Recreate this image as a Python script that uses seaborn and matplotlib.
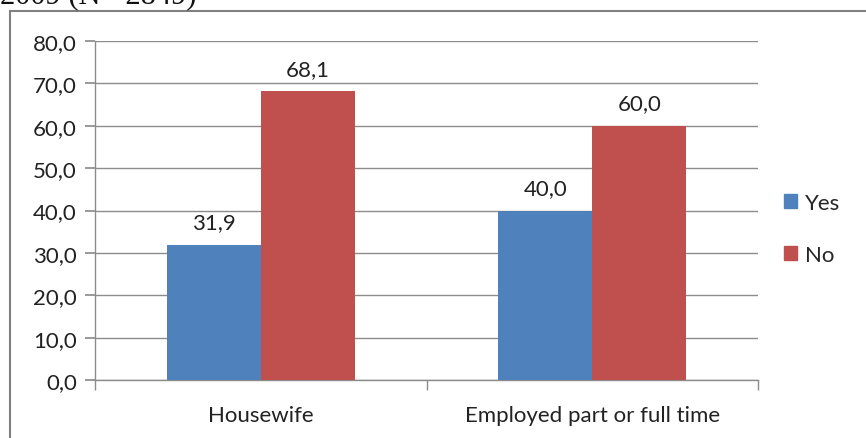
import matplotlib
matplotlib.use("Agg")
import matplotlib.pyplot as plt
import seaborn as sns
import pandas as pd
from matplotlib.lines import Line2D
from matplotlib.ticker import FuncFormatter, FixedLocator

categories = ["Housewife", "Employed part or full time"]
series = ["Yes", "No"]
yes_values = [31.9, 40.0]
no_values = [68.1, 60.0]
colors = ["#4F81BD", "#C0504D"]

df = pd.DataFrame({
    "category": categories * 2,
    "answer": ["Yes"] * 2 + ["No"] * 2,
    "value": yes_values + no_values,
})

sns.set_theme(style="white")
plt.rcParams['font.family'] = ['Lato', 'DejaVu Sans']

FS = 16

fig = plt.figure(figsize=(8.66, 4.39), dpi=100)
ax = fig.add_axes([95/866, 1-381/439, (758-95)/866, (381-42)/439])

sns.barplot(data=df, x="category", y="value", hue="answer", hue_order=series,
            palette=colors, width=0.567, gap=0, saturation=1, ax=ax,
            edgecolor="none", linewidth=0, zorder=3)

gridc = "#8c8c8c"
ax.set_ylim(0, 80)
ax.set_xlim(-0.5, 1.5)
ax.set_yticks(range(0, 81, 10))
ax.yaxis.set_major_formatter(FuncFormatter(lambda v, p: f"{v:.1f}".replace(".", ",")))
ax.grid(axis="y", color=gridc, linewidth=1, zorder=0)
ax.set_axisbelow(True)
for s in ["top", "right"]:
    ax.spines[s].set_visible(False)
for s in ["left", "bottom"]:
    ax.spines[s].set_color(gridc)
    ax.spines[s].set_linewidth(1)
ax.tick_params(axis="y", left=True, length=7, color=gridc, labelsize=FS, pad=6, labelcolor="#222222")
ax.set_xticks([0, 1])
ax.set_xticklabels(categories)
ax.tick_params(axis="x", bottom=False, labelsize=FS, pad=12, labelcolor="#222222")
ax.xaxis.set_minor_locator(FixedLocator([-0.5, 0.5, 1.5]))
ax.tick_params(axis="x", which="minor", bottom=True, length=7, color=gridc)
ax.set_xlabel("")
ax.set_ylabel("")

for cont in ax.containers:
    ax.bar_label(cont, labels=[f"{v:.1f}".replace(".", ",") for v in cont.datavalues],
                 padding=9, fontsize=FS, color="#222222")

ax.legend_.remove()
handles = [plt.Rectangle((0, 0), 1, 1, color=c) for c in colors]
fig.legend(handles, series, loc="center left", bbox_to_anchor=(764/866, 1-230/439),
           frameon=False, fontsize=FS, handlelength=0.6, handleheight=0.6,
           handletextpad=0.35, labelspacing=1.45)

# outer chart frame (partially visible)
fig.add_artist(Line2D([10/866, 10/866], [0, 1-12/439], color="#808080", linewidth=1.5,
                      transform=fig.transFigure))
fig.add_artist(Line2D([10/866, 1], [1-12/439, 1-12/439], color="#808080", linewidth=1.5,
                      transform=fig.transFigure))

fig.text(0.0, 1-3/439, "2009 (N= 2849)", family="Liberation Serif", fontsize=22,
         va="baseline", ha="left", color="#111111")

fig.savefig("out.png", dpi=100)
